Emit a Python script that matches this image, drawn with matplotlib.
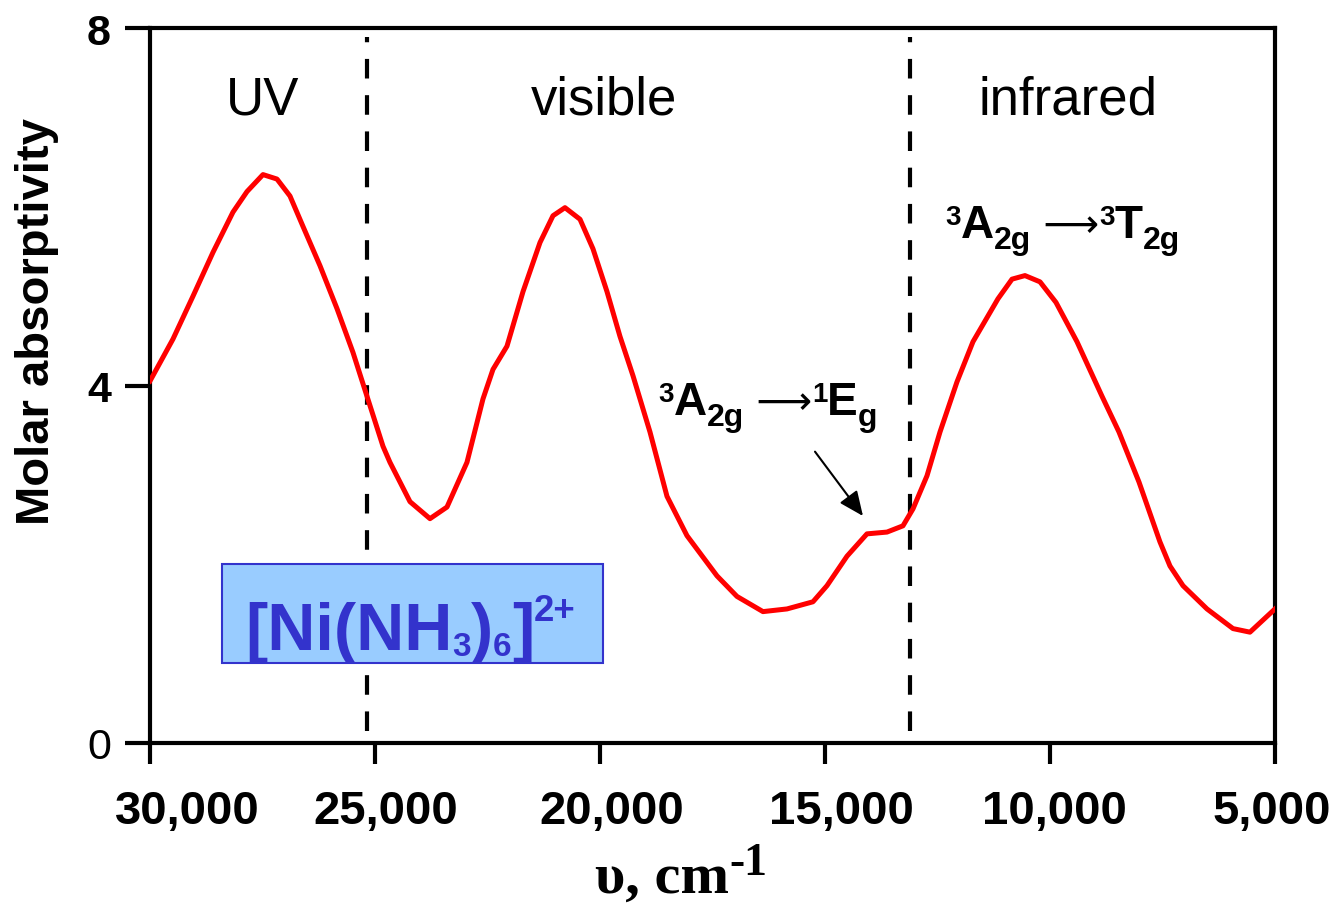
import matplotlib
matplotlib.use("Agg")
import matplotlib.pyplot as plt
import matplotlib.transforms as mtransforms
from matplotlib.patches import Rectangle
from matplotlib import font_manager

# spectrum (cm-1, molar absorptivity)
wavenumber = [30000, 29489, 29044, 28600, 28156, 27844, 27489, 27178, 26889, 26600,
              26222, 25844, 25489, 25178, 24822, 24667, 24222, 23778, 23400, 22956,
              22600, 22378, 22067, 21711, 21333, 21044, 20778, 20444, 20156, 19844,
              19556, 19267, 18889, 18511, 18067, 17400, 16956, 16378, 15844, 15267,
              14956, 14511, 14067, 13622, 13267, 13044, 12733, 12444, 12067, 11711,
              11156, 10844, 10556, 10222, 9867, 9400, 8844, 8467, 8022, 7556,
              7333, 7044, 6511, 5933, 5556, 5000]
absorptivity = [4.05, 4.52, 5.00, 5.49, 5.94, 6.17, 6.36, 6.31, 6.12, 5.78,
                5.34, 4.86, 4.37, 3.88, 3.32, 3.14, 2.70, 2.51, 2.64, 3.14,
                3.85, 4.18, 4.44, 5.05, 5.60, 5.90, 5.99, 5.86, 5.53, 5.05,
                4.55, 4.11, 3.48, 2.76, 2.32, 1.87, 1.64, 1.47, 1.50, 1.58,
                1.76, 2.09, 2.34, 2.36, 2.43, 2.62, 2.99, 3.48, 4.04, 4.49,
                4.97, 5.19, 5.23, 5.16, 4.93, 4.49, 3.88, 3.48, 2.92, 2.25,
                1.98, 1.76, 1.50, 1.28, 1.24, 1.50]

x_ticks = [30000, 25000, 20000, 15000, 10000, 5000]
x_tick_labels = ["30,000", "25,000", "20,000", "15,000", "10,000", "5,000"]
y_ticks = [0, 4, 8]
region_names = ["UV", "visible", "infrared"]
region_centers = [27500, 19920, 9610]
region_bounds = [25180, 13100]

fig = plt.figure(figsize=(13.38, 9.04), dpi=100)
ax = fig.add_axes([0.1121, 0.1770, 0.8408, 0.7909])
renderer = fig.canvas.get_renderer()


def piece_text(x, y, pieces, transform, color="black"):
    # draws a run of text pieces side by side (for sub/superscripts)
    dx = 0.0
    for s, size, rise, weight, family in pieces:
        t = fig.text(x, y, s, fontsize=size, fontweight=weight, family=family,
                     color=color, ha="left", va="baseline", zorder=5,
                     transform=mtransforms.offset_copy(transform, fig=fig, x=dx, y=rise, units="dots"))
        dx += t.get_window_extent(renderer).width


ax.plot(wavenumber, absorptivity, color="#ff0000", lw=3.6, zorder=4)

for xb in region_bounds:
    ax.axvline(xb, ymin=0.017, ymax=0.987, color="black", lw=3, dashes=(4.7, 4), zorder=2)

for name, xc in zip(region_names, region_centers):
    ax.text(xc, 7.04, name, fontsize=38, family="Liberation Sans", ha="center", va="baseline")

ax.set_xlim(30000, 5000)
ax.set_ylim(0, 8)
ax.set_xticks(x_ticks)
ax.set_xticklabels(x_tick_labels)
ax.set_yticks(y_ticks)
ax.set_yticklabels([str(v) for v in y_ticks])

for side in ["left", "right", "top", "bottom"]:
    ax.spines[side].set_linewidth(3)
ax.tick_params(axis="x", direction="out", length=15, width=3, pad=18)
ax.tick_params(axis="y", direction="out", length=18, width=3, pad=10)

label_shift = [37, 11, 12, 16, 4, -3]
for lab, sh in zip(ax.get_xticklabels(), label_shift):
    lab.set_fontsize(34)
    lab.set_fontweight("bold")
    lab.set_family("Liberation Sans")
    lab.set_transform(lab.get_transform() + mtransforms.ScaledTranslation(sh / 100, 0, fig.dpi_scale_trans))
for lab in ax.get_yticklabels():
    lab.set_fontsize(31)
    lab.set_family("Liberation Sans")
    lab.set_fontweight("normal" if lab.get_text() == "0" else "bold")

fig.text(0.0277, 0.644, "Molar absorptivity", rotation=90, fontsize=34, fontweight="bold",
         family="Liberation Sans", ha="center", va="center")

# x axis label: "υ, cm-1"
serif = "Liberation Serif"
piece_text(595 / 1338, 1 - 893 / 904,
           [("υ, cm", 42, 0, "bold", serif), ("-1", 33, 18, "bold", serif)],
           fig.transFigure)

# transition labels
sans = "Liberation Sans"
arrow_font = ["DejaVu Sans"]
piece_text(12333, 5.66,
           [("3", 20, 13, "bold", sans), ("A", 33, 0, "bold", sans), ("2g", 23, -11, "bold", sans),
            (" ⟶", 28, 1, "normal", arrow_font), ("3", 20, 13, "bold", sans), ("T", 33, 0, "bold", sans),
            ("2g", 23, -11, "bold", sans)],
           ax.transData)
piece_text(18711, 3.68,
           [("3", 20, 13, "bold", sans), ("A", 33, 0, "bold", sans), ("2g", 23, -11, "bold", sans),
            (" ⟶", 28, 1, "normal", arrow_font), ("1", 20, 13, "bold", sans), ("E", 33, 0, "bold", sans),
            ("g", 23, -11, "bold", sans)],
           ax.transData)

ax.annotate("", xy=(14156, 2.54), xytext=(15222, 3.26),
            arrowprops=dict(arrowstyle="-|>,head_length=0.5,head_width=0.22", color="black",
                            lw=1.5, mutation_scale=30, shrinkA=0, shrinkB=0))

# complex label box
ax.add_patch(Rectangle((0.064, 0.112), 0.3387, 0.138, transform=ax.transAxes,
                       facecolor="#99ccff", edgecolor="#3333cc", lw=1.5, zorder=3))
names = {f.name for f in font_manager.fontManager.ttflist}
if "Liberation Sans Narrow" in names:
    box_family, box_size = "Liberation Sans Narrow", 57
else:
    box_family, box_size = "Liberation Sans", 48
k = box_size / 57
piece_text(0.0844, 0.1315,
           [("[Ni(NH", box_size, 0, "bold", box_family),
            ("3", box_size * 0.5, -7 * k, "bold", box_family),
            (")", box_size, 0, "bold", box_family),
            ("6", box_size * 0.5, -7 * k, "bold", box_family),
            ("]", box_size, 0, "bold", box_family),
            ("2+", box_size * 0.55, 34 * k, "bold", box_family)],
           ax.transAxes, color="#3333cc")

fig.savefig("out.png", dpi=100)
